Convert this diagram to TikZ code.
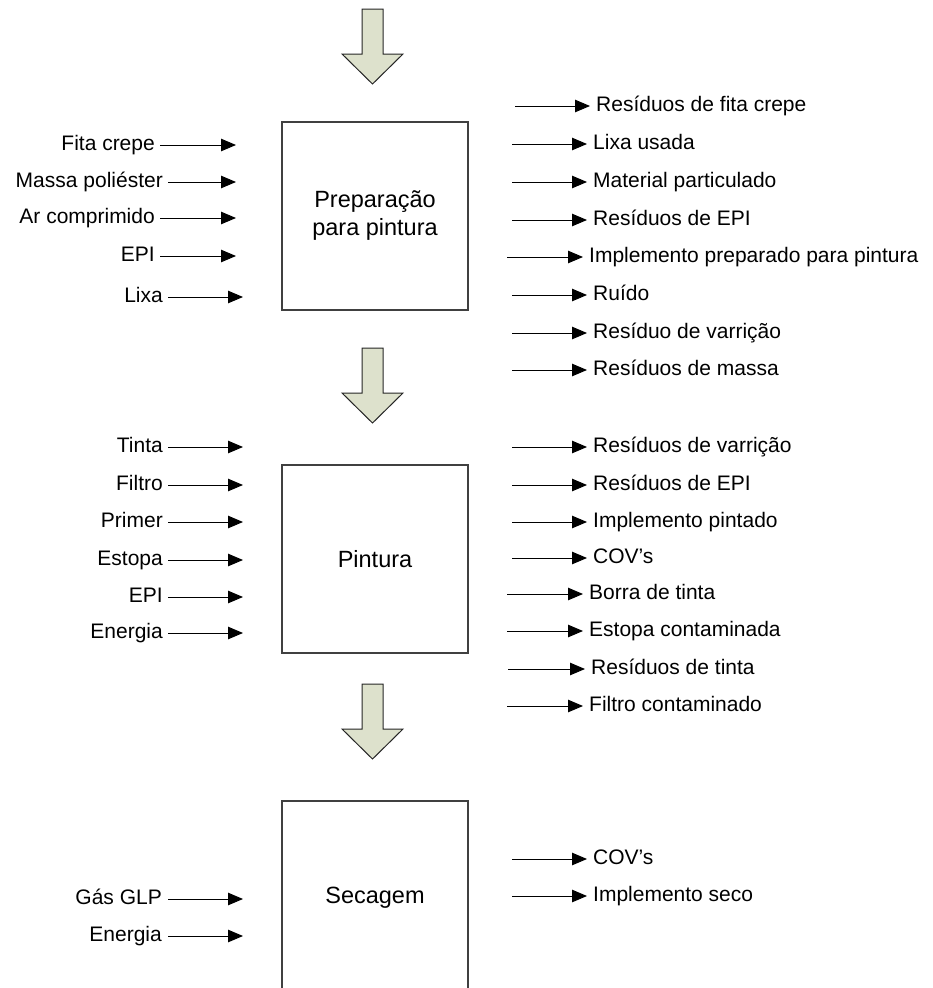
\documentclass[tikz,border=0pt]{standalone}
\usepackage{fontspec}
\setmainfont{Liberation Sans}
\usetikzlibrary{arrows.meta}
\definecolor{blockfill}{RGB}{221,225,204}
\begin{document}
\begin{tikzpicture}[x=1pt,y=-1pt,
  flow/.style={draw=black, line width=0.9pt, -{Triangle[length=15pt,width=12.5pt]}},
  inlbl/.style={anchor=base east, inner sep=0pt, font=\fontsize{21}{25}\selectfont},
  outlbl/.style={anchor=base west, inner sep=0pt, font=\fontsize{21}{25}\selectfont},
  stage/.style={draw=black!75, line width=1.2pt, minimum width=186pt, minimum height=188pt,
    inner sep=0pt, align=center, font=\fontsize{23.5}{28}\selectfont},
  bigarrow/.style={fill=blockfill, draw=black!85, line width=1pt, line join=miter},
  pics/downarrow/.style={code={
    \draw[bigarrow] (-10.5,0) -- (10.5,0) -- (10.5,45) -- (30.5,45) -- (0,75)
      -- (-30.5,45) -- (-10.5,45) -- cycle;}}]
\useasboundingbox (0,0) rectangle (933,988);
\clip (0,0) rectangle (933,988);

% process stages
\node[stage] (prep) at (375,216) {Preparação\\para pintura};
\node[stage] (pint) at (375,559) {Pintura};
\node[stage, minimum height=194pt] (sec) at (375,898) {Secagem};

% block arrows between stages
\pic at (372.5,9) {downarrow};
\pic at (372.5,348) {downarrow};
\pic at (372.5,684) {downarrow};

% inputs (label, label right edge, line start, tip, height)
\foreach \n/\lab/\tx/\ls/\le/\y in {
  pa/Fita crepe/155/160/236/145,
  pb/Massa poliéster/163/168/236/182,
  pc/Ar comprimido/155/160/236/218,
  pd/EPI/155/160/236/256,
  pe/Lixa/163/168/243/297,
  ta/Tinta/163/168/243/447,
  tb/Filtro/163/168/243/485,
  tc/Primer/163/168/243/522,
  td/Estopa/163/168/243/560,
  te/EPI/163/168/243/597,
  tf/Energia/163/168/243/633,
  sa/Gás GLP/162/168/243/899,
  sb/Energia/162/168/243/936}
{
  \node[inlbl] (in-\n) at (\tx,\y+5) {\lab};
  \coordinate (in-\n-s) at (\ls,\y);
  \coordinate (in-\n-e) at (\le,\y);
  \draw[flow] (in-\n-s) -- (in-\n-e);
}

% outputs (line start, tip, height, label)
\foreach \n/\ls/\le/\y/\lab in {
  pa/515/590/106/Resíduos de fita crepe,
  pb/512/587/144/Lixa usada,
  pc/512/587/182/Material particulado,
  pd/512/587/220/Resíduos de EPI,
  pe/507/583/257/Implemento preparado para pintura,
  pf/512/587/295/Ruído,
  pg/512/587/333/Resíduo de varrição,
  ph/512/587/370/Resíduos de massa,
  ta/512/587/447/Resíduos de varrição,
  tb/512/587/485/Resíduos de EPI,
  tc/512/587/522/Implemento pintado,
  td/512/587/558/COV’s,
  te/507/583/594/Borra de tinta,
  tf/507/583/631/Estopa contaminada,
  tg/508/585/669/Resíduos de tinta,
  th/507/583/706/Filtro contaminado,
  sa/512/587/859/COV’s,
  sb/512/587/896/Implemento seco}
{
  \coordinate (out-\n-s) at (\ls,\y);
  \coordinate (out-\n-e) at (\le,\y);
  \draw[flow] (out-\n-s) -- (out-\n-e);
  \node[outlbl] (out-\n) at (\le+6,\y+5) {\lab};
}
\end{tikzpicture}
\end{document}
